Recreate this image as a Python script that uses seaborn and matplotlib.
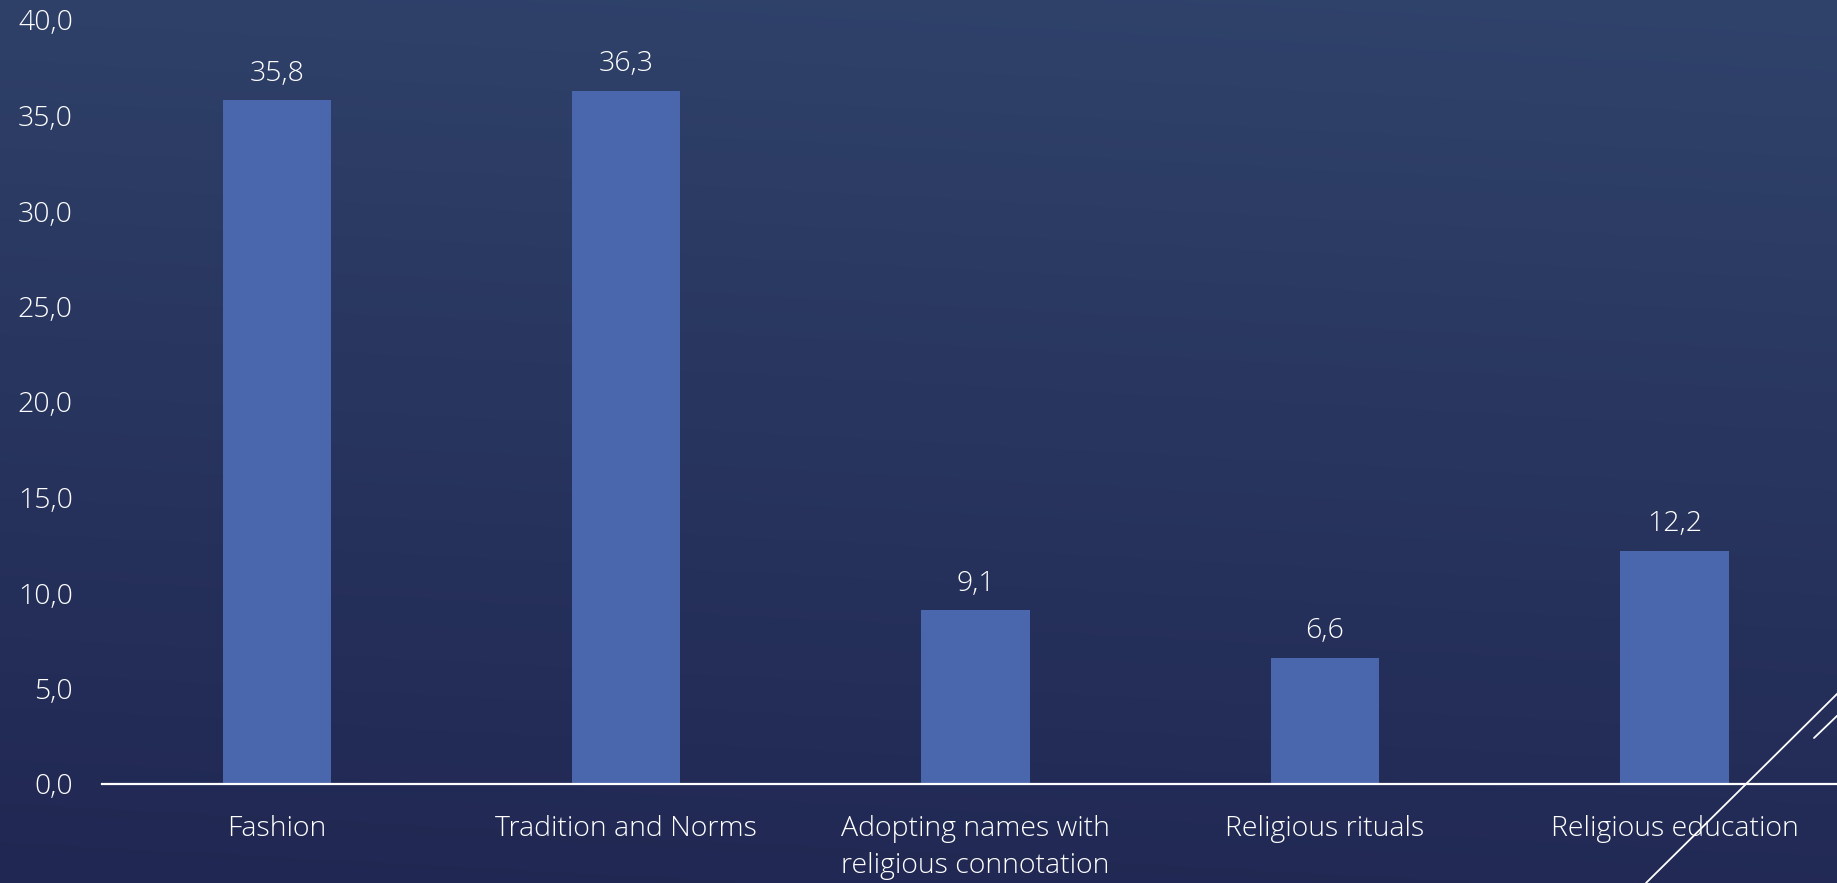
import numpy as np
import pandas as pd
import matplotlib
matplotlib.use("Agg")
import matplotlib.pyplot as plt
import seaborn as sns
from matplotlib.lines import Line2D

categories = ["Fashion", "Tradition and Norms", "Adopting names with\nreligious connotation",
              "Religious rituals", "Religious education"]
values = [35.8, 36.3, 9.1, 6.6, 12.2]
yticks = [0, 5, 10, 15, 20, 25, 30, 35, 40]

sns.set_theme(style="white")
plt.rcParams['font.family'] = ['Open Sans', 'DejaVu Sans']
FW = "light"
FS = 20.5

W, H = 1837, 883
fig = plt.figure(figsize=(W / 100, H / 100), dpi=100)

# gradient background
bg = fig.add_axes([0, 0, 1, 1], zorder=-10)
yy, xx = np.mgrid[0:1:300j, 0:1:600j]
t = np.clip(yy * 0.9 + (1 - xx) * 0.1, 0, 1)
top = np.array([0x30, 0x43, 0x6B]) / 255
bot = np.array([0x20, 0x27, 0x52]) / 255
img = top[None, None, :] * (1 - t[..., None]) + bot[None, None, :] * t[..., None]
bg.imshow(img, aspect="auto", extent=[0, 1, 0, 1], origin="upper")
bg.set_axis_off()

ax = fig.add_axes([102 / W, 1 - 784 / H, 1 - 102 / W, (784 - 20) / H])
ax.set_facecolor("none")
df = pd.DataFrame({"cat": categories, "val": values})
sns.barplot(data=df, x="cat", y="val", color="#4A67AE", saturation=1, width=0.31,
            edgecolor="none", linewidth=0, ax=ax)

ax.set_xlim(-0.5, 4.465)
ax.set_ylim(0, 40)
ax.set_yticks(yticks)
ax.set_yticklabels([f"{v:.1f}".replace(".", ",") for v in yticks])
ax.set_xlabel("")
ax.set_ylabel("")
for s in ["top", "right", "left"]:
    ax.spines[s].set_visible(False)
ax.spines["bottom"].set_color("white")
ax.spines["bottom"].set_linewidth(1.6)
ax.tick_params(axis="y", length=0, pad=21, labelsize=FS, labelcolor="white")
ax.tick_params(axis="x", length=0, pad=22, labelsize=FS, labelcolor="white")
for lab in ax.get_xticklabels():
    lab.set_linespacing(1.45)
    lab.set_fontweight(FW)
for lab in ax.get_yticklabels():
    lab.set_fontweight(FW)

for i, v in enumerate(values):
    ax.annotate(f"{v:.1f}".replace(".", ","), (i, v), xytext=(0, 9),
                textcoords="offset points", ha="center", va="bottom",
                color="white", fontsize=FS, fontweight=FW)

# decorative diagonal lines
fig.add_artist(Line2D([1646 / W, 1 + 2 / W], [0, 1 - 692 / H], transform=fig.transFigure,
                      color="white", lw=1.3))
fig.add_artist(Line2D([1814 / W, 1 + 2 / W], [1 - 738 / H, 1 - 714 / H], transform=fig.transFigure,
                      color="white", lw=1.3))

fig.savefig("out.png", dpi=100)
